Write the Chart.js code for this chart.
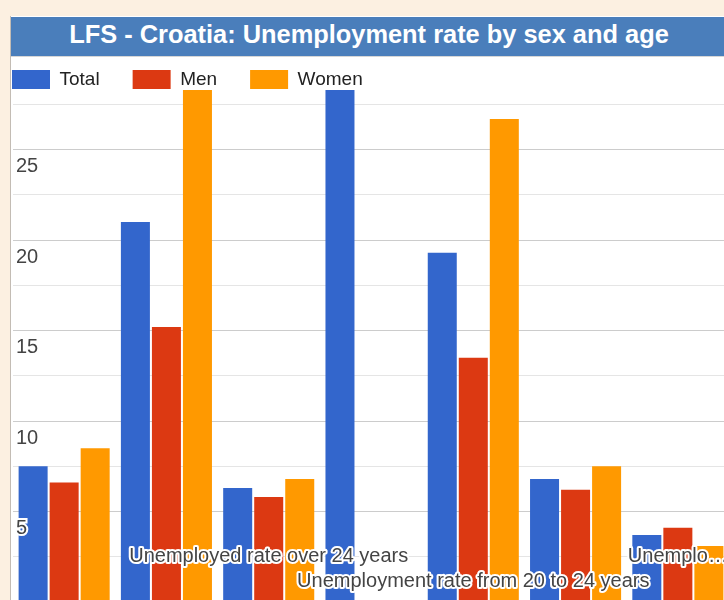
<!DOCTYPE html>
<html>
<head>
<meta charset="utf-8">
<title>LFS - Croatia: Unemployment rate by sex and age</title>
<script src="https://cdn.jsdelivr.net/npm/chart.js@4.4.1/dist/chart.umd.min.js"></script>
<style>
  html, body { margin: 0; padding: 0; width: 724px; height: 600px; overflow: hidden; background: #fcf0e1; }
  #frame { position: absolute; left: 10px; top: 16px; width: 717px; height: 600px; background: #ffffff; border-left: 1px solid #c3bcb4; }
  #titlebar { position: absolute; left: 11px; top: 17px; width: 716px; height: 39px; background: #4a7ebb;
              border-bottom: 1px solid #d6d6d6; color: #ffffff; text-align: center; line-height: 39px;
              font: bold 25.4px "Liberation Sans", Arial, sans-serif; z-index: 2; white-space: nowrap; }
  #titlebar span { position: relative; top: 3px; }
  #chartbox { position: absolute; left: -21px; top: 37px; z-index: 1; }
</style>
</head>
<body>
<div id="frame"></div>
<div id="titlebar"><span>LFS - Croatia: Unemployment rate by sex and age</span></div>
<div id="chartbox"><canvas id="chart" width="750" height="565"></canvas></div>
<script>
// Indicators (categories along the horizontal axis)
const categories = [
  'Unemployment rate',
  'Unemployment rate from 15 to 24 years',
  'Unemployed rate over 24 years',
  'Unemployment rate from 15 to 19 years',
  'Unemployment rate from 20 to 24 years',
  'Unemployment rate from 25 to 74 years',
  'Unemployment rate from 55 to 74 years'
];

// Series names and their values (%)
const seriesNames = ['Total', 'Men', 'Women'];
const totalValues = [7.5, 21.0, 6.3, 31.5, 19.3, 6.8, 3.7];
const menValues   = [6.6, 15.2, 5.8, null, 13.5, 6.2, 4.1];
const womenValues = [8.5, 29.6, 6.8, null, 26.7, 7.5, 3.1];
const seriesColors = ['#3366cc', '#dc3912', '#ff9900'];

// Value axis
const yTickLabels = [5, 10, 15, 20, 25];
const yMin = 0;
const yMax = 28.3;
const yStep = 2.5;

const FONT = '"Liberation Sans", Arial, sans-serif';

// Staggered indicator names drawn inside the plot with a white halo
const categoryLabels = {
  id: 'categoryLabels',
  afterDatasetsDraw(chart) {
    const { ctx, chartArea } = chart;
    const x = chart.scales.x;
    ctx.save();
    ctx.font = '20px ' + FONT;
    ctx.textAlign = 'center';
    ctx.textBaseline = 'middle';
    ctx.lineJoin = 'round';
    let row = 0;
    categories.forEach((name, i) => {
      if (i === 0 || i % 2 === 1) return;
      const cx = x.getPixelForValue(i);
      const room = 2 * Math.min(cx - chartArea.left, chartArea.right - cx);
      let text = name;
      if (ctx.measureText(text).width > room) {
        while (text.length > 1 && ctx.measureText(text + '\u2026').width > room) {
          text = text.slice(0, -1);
        }
        text = text + '\u2026';
      }
      const y = chartArea.bottom - (row === 0 ? 46 : 21);
      ctx.lineWidth = 4;
      ctx.strokeStyle = '#ffffff';
      ctx.strokeText(text, cx, y);
      ctx.fillStyle = '#444444';
      ctx.fillText(text, cx, y);
      row = 1 - row;
    });
    ctx.restore();
  }
};

new Chart(document.getElementById('chart'), {
  type: 'bar',
  data: {
    labels: categories,
    datasets: [
      { label: seriesNames[0], data: totalValues, backgroundColor: seriesColors[0] },
      { label: seriesNames[1], data: menValues,   backgroundColor: seriesColors[1] },
      { label: seriesNames[2], data: womenValues, backgroundColor: seriesColors[2] }
    ]
  },
  options: {
    responsive: false,
    animation: false,
    devicePixelRatio: 1,
    layout: { padding: 0, autoPadding: false },
    datasets: { bar: { categoryPercentage: 0.91, barPercentage: 0.935, borderWidth: 0 } },
    plugins: {
      title: { display: false },
      tooltip: { enabled: false },
      legend: {
        display: true,
        position: 'top',
        align: 'start',
        maxHeight: 53,
        labels: {
          boxWidth: 38,
          boxHeight: 19,
          padding: 33,
          color: '#222222',
          font: { family: FONT, size: 19 }
        }
      }
    },
    scales: {
      x: { display: false },
      y: {
        min: yMin,
        max: yMax,
        afterFit(scale) {
          // fixed axis strip; labels sit inside the plot, so no extra edge room
          scale.width = 34;
          scale.paddingTop = 0;
          scale.paddingBottom = 0;
        },
        border: { display: false },
        grid: {
          drawTicks: false,
          lineWidth: 1,
          color: (c) => (c.tick && c.tick.value % 5 === 0) ? '#cccccc' : '#e5e5e5'
        },
        ticks: {
          stepSize: yStep,
          includeBounds: false,
          mirror: true,
          padding: 3,
          labelOffset: 17,
          z: 1,
          color: '#444444',
          font: { family: FONT, size: 20 },
          textStrokeColor: '#ffffff',
          textStrokeWidth: 4,
          callback: (v) => yTickLabels.includes(v) ? String(v) : ''
        }
      }
    }
  },
  plugins: [categoryLabels]
});
</script>
</body>
</html>
